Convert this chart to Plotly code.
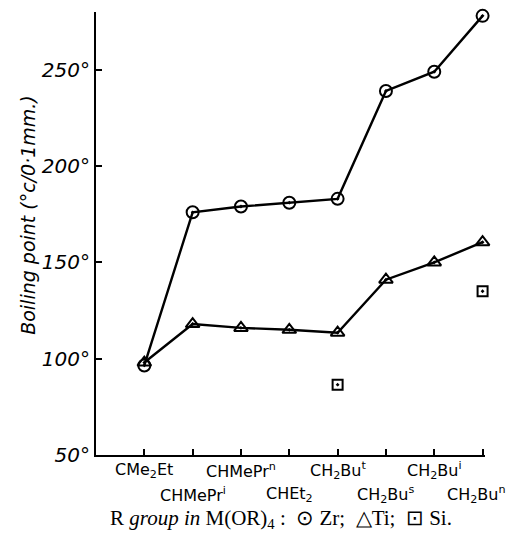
import plotly.graph_objects as go

categories = ["CMe<sub>2</sub>Et", "CHMePr<sup>i</sup>", "CHMePr<sup>n</sup>", "CHEt<sub>2</sub>",
              "CH<sub>2</sub>Bu<sup>t</sup>", "CH<sub>2</sub>Bu<sup>s</sup>", "CH<sub>2</sub>Bu<sup>i</sup>",
              "CH<sub>2</sub>Bu<sup>n</sup>"]
zr_values = [96.5, 176, 179, 181, 183, 239, 249, 278]
ti_values = [98, 118, 116, 115, 113.5, 141, 150, 160.5]
si_x = [4, 7]
si_values = [86.5, 135]
y_ticks = [50, 100, 150, 200, 250]
y_tick_labels = ["50°", "100°", "150°", "200°", "250°"]

xpos = list(range(len(categories)))

fig = go.Figure()
fig.add_trace(go.Scatter(x=xpos, y=zr_values, mode="lines+markers",
                         line=dict(color="black", width=2.4),
                         marker=dict(symbol="circle-open-dot", size=12, color="black",
                                     line=dict(width=2, color="black")),
                         showlegend=False, cliponaxis=False))
fig.add_trace(go.Scatter(x=xpos, y=ti_values, mode="lines+markers",
                         line=dict(color="black", width=2.4),
                         marker=dict(symbol="triangle-up-open-dot", size=12, color="black",
                                     line=dict(width=2, color="black")),
                         showlegend=False, cliponaxis=False))
fig.add_trace(go.Scatter(x=si_x, y=si_values, mode="markers",
                         marker=dict(symbol="square-open-dot", size=10, color="black",
                                     line=dict(width=2, color="black")),
                         showlegend=False, cliponaxis=False))

annotations = []
for i, c in enumerate(categories):
    annotations.append(dict(text=c, xref="x", yref="paper", x=i, y=-0.034 if i % 2 == 0 else -0.090,
                            xanchor="center", yanchor="middle", showarrow=False,
                            xshift=-6 if i == len(categories) - 1 else 0,
                            font=dict(family="DejaVu Sans", size=16, color="black")))
annotations.append(dict(text="Boiling point (°c/0·1mm.)", xref="paper", yref="paper",
                        x=-0.175, y=0.542, xanchor="center", yanchor="middle", textangle=-90,
                        showarrow=False,
                        font=dict(family="DejaVu Sans", size=19, color="black", style="italic")))
annotations.append(dict(text="R <i>group in</i> M(OR)<sub>4</sub> :  ⊙ Zr;  △Ti;  ⊡ Si.",
                        xref="paper", yref="paper", x=0.476, y=-0.1445, xanchor="center", yanchor="middle",
                        showarrow=False,
                        font=dict(family="Liberation Serif", size=21, color="black")))

fig.update_layout(
    width=509, height=531,
    margin=dict(l=88, r=32, t=4, b=84),
    paper_bgcolor="white", plot_bgcolor="white",
    xaxis=dict(range=[-1.0, 7.05], tickvals=xpos, showticklabels=False, automargin=False,
               showgrid=False, zeroline=False, showline=True, linecolor="black", linewidth=2,
               ticks="inside", ticklen=6, tickwidth=1.5, tickcolor="black"),
    yaxis=dict(range=[50, 280], tickvals=y_ticks, ticktext=y_tick_labels, automargin=False,
               showgrid=False, zeroline=False, showline=True, linecolor="black", linewidth=2,
               ticks="inside", ticklen=6, tickwidth=1.5, tickcolor="black",
               tickfont=dict(family="DejaVu Sans", size=20, color="black", style="italic")),
    annotations=annotations,
)

fig.write_html("out.html")
